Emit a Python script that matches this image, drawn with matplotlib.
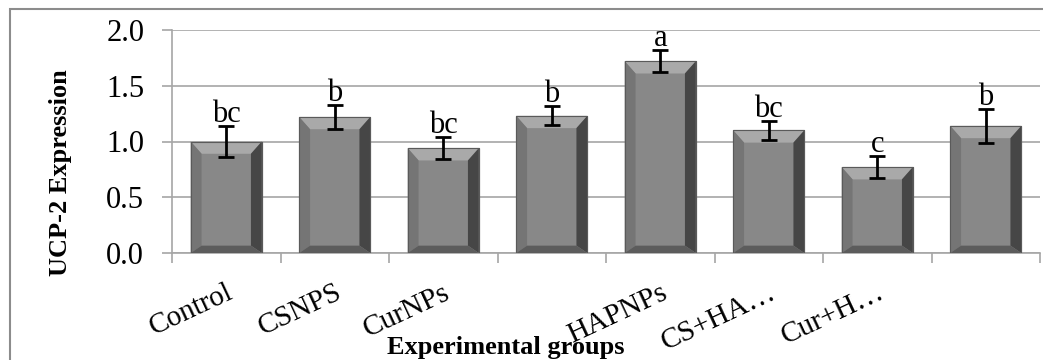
"""UCP-2 expression by experimental group, Excel-style bevelled bar chart."""

import matplotlib
matplotlib.use("Agg")
import matplotlib.pyplot as plt
from matplotlib.patches import Polygon, Rectangle
import numpy as np

GROUPS = ["Control", "CSNPS", "CurNPs", "", "HAPNPs", "CS+HA\u2026", "Cur+H\u2026", ""]
EXPRESSION = [1.00, 1.22, 0.94, 1.23, 1.72, 1.10, 0.77, 1.14]
ERRORS = [0.14, 0.11, 0.10, 0.085, 0.10, 0.085, 0.10, 0.15]
LETTERS = ["bc", "b", "bc", "b", "a", "bc", "c", "b"]

plt.rcParams["font.family"] = ["Liberation Serif", "DejaVu Serif"]

W, H = 1043, 360
fig = plt.figure(figsize=(W / 100, H / 100), dpi=100)
ax = fig.add_axes([172 / W, 1 - 253 / H, 868 / W, 223 / H])

x = np.arange(len(GROUPS))
width = 0.655
bx, by = 0.10, 0.11  # bevel size in data units

# base bars (also gives the axes its data limits)
ax.bar(x, EXPRESSION, width=width, color="#888888", edgecolor="#5a5a5a",
       linewidth=0.8, zorder=2)

# bevel faces
for xi, h in zip(x, EXPRESSION):
    x0, x1 = xi - width / 2, xi + width / 2
    faces = [
        ([(x0, h), (x1, h), (x1 - bx, h - by), (x0 + bx, h - by)], "#a9a9a9"),
        ([(x0, 0), (x0, h), (x0 + bx, h - by), (x0 + bx, by * 0.6)], "#757575"),
        ([(x1, 0), (x1, h), (x1 - bx, h - by), (x1 - bx, by * 0.6)], "#464646"),
        ([(x0, 0), (x1, 0), (x1 - bx, by * 0.6), (x0 + bx, by * 0.6)], "#5c5c5c"),
    ]
    for pts, col in faces:
        ax.add_patch(Polygon(pts, closed=True, facecolor=col, edgecolor="none", zorder=3))
    ax.add_patch(Rectangle((x0, 0), width, h, fill=False, edgecolor="#5a5a5a",
                           linewidth=0.8, zorder=4))

ax.errorbar(x, EXPRESSION, yerr=ERRORS, fmt="none", ecolor="black",
            elinewidth=2, capsize=6, capthick=2, zorder=5)

for xi, h, e, lab in zip(x, EXPRESSION, ERRORS, LETTERS):
    ax.annotate(lab, (xi, h + e), xytext=(0, 3), textcoords="offset points",
                ha="center", va="baseline", fontsize=22, zorder=6)

ax.set_xlim(-0.5, len(GROUPS) - 0.5)
ax.set_ylim(0, 2.0)
ax.set_yticks(np.arange(0, 2.01, 0.5))
ax.set_yticklabels([f"{v:.1f}" for v in np.arange(0, 2.01, 0.5)], fontsize=22)
ax.yaxis.grid(True, color="#a6a6a6", linewidth=1.2, zorder=0)
ax.set_axisbelow(True)

ax.set_xticks(x)
ax.set_xticklabels(GROUPS, fontsize=21, rotation=25, ha="right",
                   rotation_mode="anchor")
ax.set_xticks(np.arange(-0.5, len(GROUPS)), minor=True)
ax.tick_params(axis="x", which="major", length=0, pad=19)
ax.tick_params(axis="x", which="minor", length=7, color="#a6a6a6", width=1.2)
ax.tick_params(axis="y", length=7, color="#a6a6a6", width=1.2, pad=13)

for side in ["top", "right"]:
    ax.spines[side].set_visible(False)
for side in ["left", "bottom"]:
    ax.spines[side].set_color("#a6a6a6")
    ax.spines[side].set_linewidth(1.2)

fig.text(60 / W, 1 - 173 / H, "UCP-2 Expression", rotation=90, ha="center",
         va="center", fontsize=19, fontweight="bold")
fig.text(506 / W, 1 - 354 / H, "Experimental groups", ha="center",
         va="baseline", fontsize=19, fontweight="bold")

# chart frame (cut off at the right and bottom in the original)
fig.patches.append(Rectangle((10 / W, -0.1), 1.2, 1 - 9 / H + 0.1,
                             transform=fig.transFigure, fill=False,
                             edgecolor="#8c8c8c", linewidth=1.5))

fig.savefig("out.png", dpi=100)
